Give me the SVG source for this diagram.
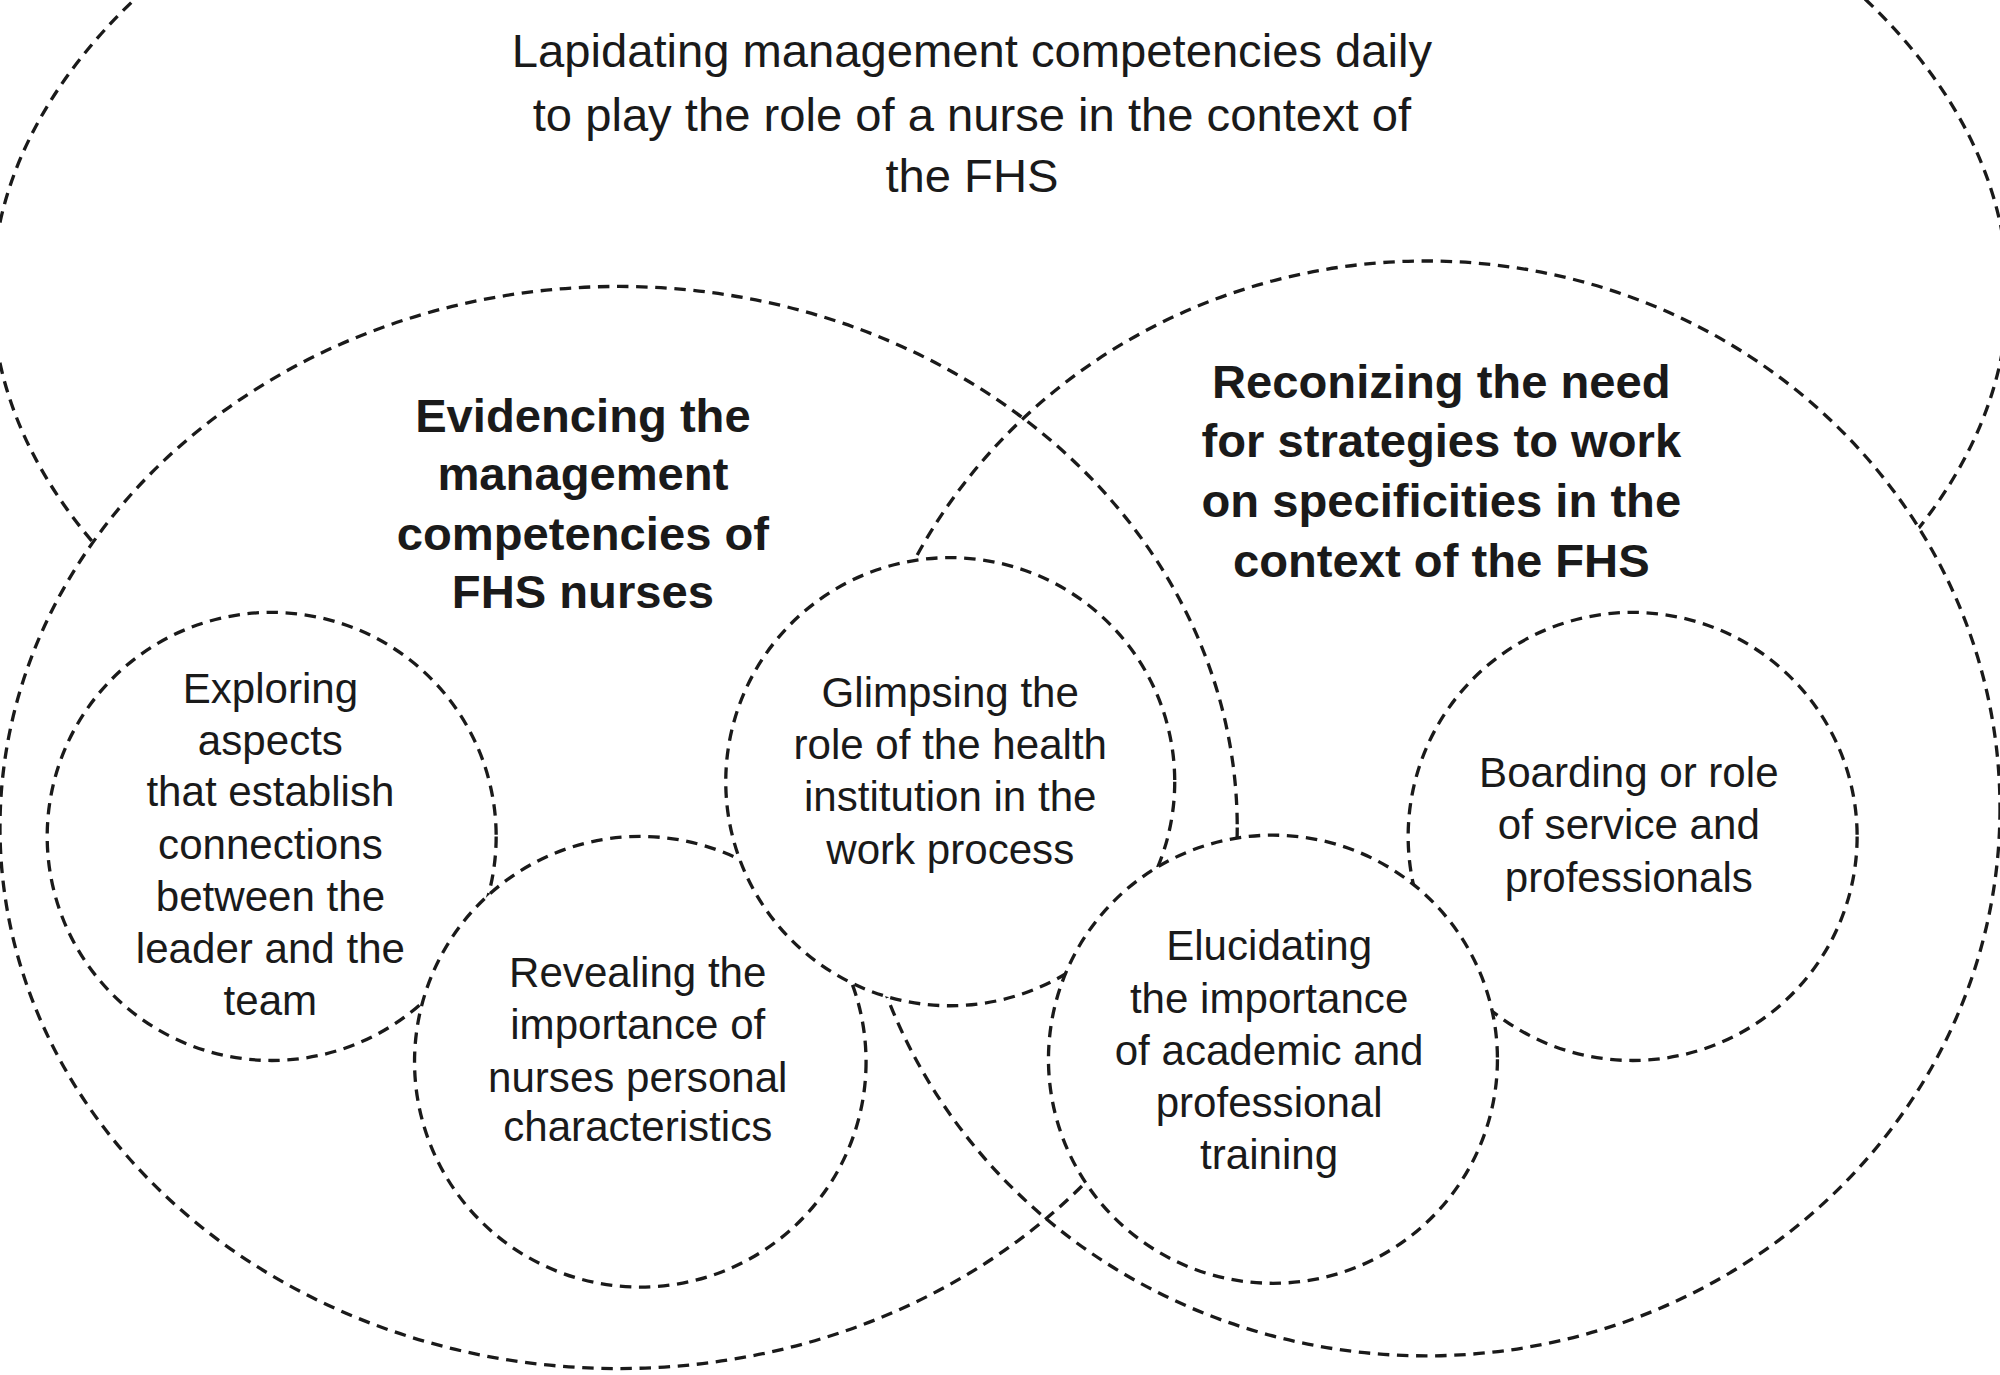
<svg xmlns="http://www.w3.org/2000/svg" width="2000" height="1375" viewBox="0 0 2000 1375">
<style>
.d{fill:none;stroke:#1a1a1a;stroke-width:2.6;stroke-dasharray:9 6}
.w{fill:#fff;stroke:none}
.c{fill:#fff;stroke:#1a1a1a;stroke-width:2.6;stroke-dasharray:9 6}
text{font-family:"Liberation Sans",Arial,sans-serif;fill:#1a1a1a;text-anchor:middle;dominant-baseline:central}
.t{font-size:37px}
.b{font-size:37px;font-weight:bold}
.s{font-size:33px}
</style>
<rect width="2000" height="1375" fill="#fff"/>
<g transform="scale(1.2755 1.2731)">
<g id="connectors">
<ellipse id="outer" class="d" cx="784" cy="230" rx="790" ry="450"/>
<ellipse class="w" cx="485" cy="650" rx="485" ry="425"/>
<ellipse class="w" cx="1118" cy="635" rx="450" ry="430"/>
<ellipse id="left" class="d" cx="485" cy="650" rx="485" ry="425"/>
<ellipse id="right" class="d" cx="1118" cy="635" rx="450" ry="430"/>
</g>
<g id="title">
<text class="t" x="762" y="40">Lapidating management competencies daily</text>
<text class="t" x="762" y="90">to play the role of a nurse in the context of</text>
<text class="t" x="762" y="138">the FHS</text>
</g>
<g id="evidencing">
<text class="b" x="457" y="326">Evidencing the</text>
<text class="b" x="457" y="372">management</text>
<text class="b" x="457" y="419">competencies of</text>
<text class="b" x="457" y="465">FHS nurses</text>
</g>
<g id="reconizing">
<text class="b" x="1130" y="300">Reconizing the need</text>
<text class="b" x="1130" y="346">for strategies to work</text>
<text class="b" x="1130" y="393">on specificities in the</text>
<text class="b" x="1130" y="440">context of the FHS</text>
</g>
<g id="exploring">
<circle class="c" cx="213" cy="657" r="176"/>
<text class="s" x="212" y="541">Exploring</text>
<text class="s" x="212" y="582">aspects</text>
<text class="s" x="212" y="622">that establish</text>
<text class="s" x="212" y="663">connections</text>
<text class="s" x="212" y="704">between the</text>
<text class="s" x="212" y="745">leader and the</text>
<text class="s" x="212" y="786">team</text>
</g>
<g id="revealing">
<circle class="c" cx="502" cy="834" r="177"/>
<text class="s" x="500" y="764">Revealing the</text>
<text class="s" x="500" y="805">importance of</text>
<text class="s" x="500" y="846">nurses personal</text>
<text class="s" x="500" y="885">characteristics</text>
</g>
<g id="glimpsing">
<circle class="c" cx="745" cy="614" r="176"/>
<text class="s" x="745" y="544">Glimpsing the</text>
<text class="s" x="745" y="585">role of the health</text>
<text class="s" x="745" y="626">institution in the</text>
<text class="s" x="745" y="667">work process</text>
</g>
<g id="boarding">
<circle class="c" cx="1280" cy="657" r="176"/>
<text class="s" x="1277" y="607">Boarding or role</text>
<text class="s" x="1277" y="648">of service and</text>
<text class="s" x="1277" y="689">professionals</text>
</g>
<g id="elucidating">
<circle class="c" cx="998" cy="832" r="176"/>
<text class="s" x="995" y="743">Elucidating</text>
<text class="s" x="995" y="784">the importance</text>
<text class="s" x="995" y="825">of academic and</text>
<text class="s" x="995" y="866">professional</text>
<text class="s" x="995" y="907">training</text>
</g>
</g>
</svg>
